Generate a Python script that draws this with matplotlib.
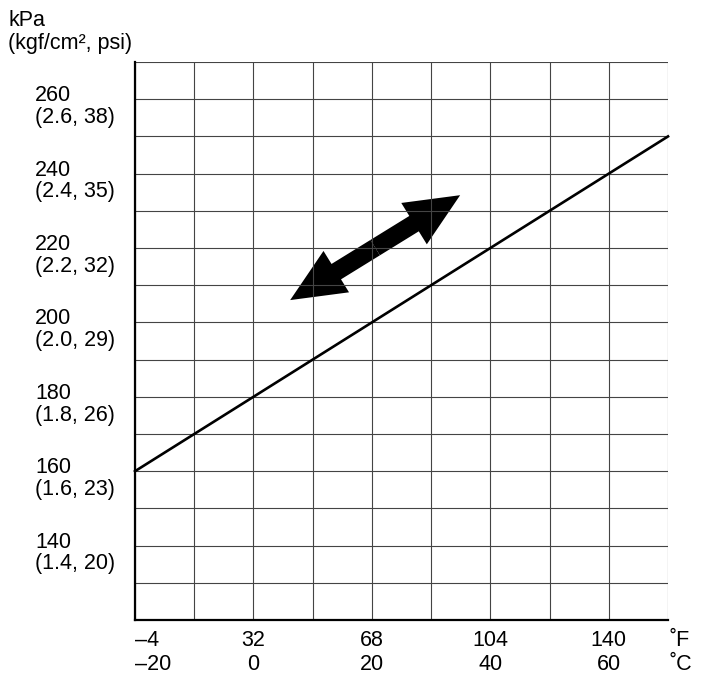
import matplotlib
matplotlib.use("Agg")
import matplotlib.pyplot as plt
from matplotlib.transforms import blended_transform_factory
from matplotlib.patches import FancyArrowPatch

plt.rcParams['font.family'] = ['Liberation Sans', 'DejaVu Sans']

# temperature axis (deg C) and matching deg F labels
temp_c = [-20, 0, 20, 40, 60]
temp_f = ['\u20134', '32', '68', '104', '140']
temp_c_labels = ['\u201320', '0', '20', '40', '60']

# pressure axis labels
press_kpa = [140, 160, 180, 200, 220, 240, 260]
press_alt = ['(1.4, 20)', '(1.6, 23)', '(1.8, 26)', '(2.0, 29)',
             '(2.2, 32)', '(2.4, 35)', '(2.6, 38)']

# specification line
line_c = [-20, 70]
line_kpa = [160, 250]

# double arrow endpoints (deg C, kPa)
arrow_start = (6.2, 206)
arrow_end = (34.9, 234.2)

fig = plt.figure(figsize=(7.02, 6.86), dpi=100)
ax = fig.add_axes([0.1923, 0.0962, 0.7593, 0.8134])

ax.set_xlim(-20, 70)
ax.set_ylim(120, 270)
ax.set_xticks(range(-20, 71, 10))
ax.set_yticks(range(120, 271, 10))
ax.grid(True, color='#444444', linewidth=0.8)
ax.tick_params(length=0, labelbottom=False, labelleft=False)
for side in ['top', 'right']:
    ax.spines[side].set_visible(False)
for side in ['left', 'bottom']:
    ax.spines[side].set_linewidth(1.6)

ax.plot(line_c, line_kpa, color='black', linewidth=1.9, clip_on=False)

# double-headed arrow drawn as two halves from the middle
mid = ((arrow_start[0] + arrow_end[0]) / 2, (arrow_start[1] + arrow_end[1]) / 2)
for tip in [arrow_start, arrow_end]:
    ax.add_patch(FancyArrowPatch(mid, tip, arrowstyle='simple,head_length=3.9,head_width=3.5,tail_width=1.3',
                                 mutation_scale=10, color='black', shrinkA=0, shrinkB=0,
                                 linewidth=0))

fs = 15.5
# y labels
ytr = blended_transform_factory(fig.transFigure, ax.transData)
for v, alt in zip(press_kpa, press_alt):
    ax.text(35 / 702, v - 2, f'{v}\n{alt}', transform=ytr, ha='left', va='center',
            fontsize=fs, linespacing=1.05)

fig.text(8 / 702, 1 - 21 / 686, 'kPa', ha='left', va='center', fontsize=fs)
fig.text(8 / 702, 1 - 44 / 686, '(kgf/cm\u00b2, psi)', ha='left', va='center', fontsize=fs)

# x labels
xtr = blended_transform_factory(ax.transData, fig.transFigure)
for c, f, cl in zip(temp_c, temp_f, temp_c_labels):
    ha = 'left' if c == temp_c[0] else 'center'
    x = c - 0.05 if c == temp_c[0] else c
    ax.text(x, 1 - 640 / 686, f, transform=xtr, ha=ha, va='center', fontsize=fs)
    ax.text(x, 1 - 665 / 686, cl, transform=xtr, ha=ha, va='center', fontsize=fs)
fig.text(669 / 702, 1 - 640 / 686, '\u02daF', ha='left', va='center', fontsize=fs)
fig.text(669 / 702, 1 - 665 / 686, '\u02daC', ha='left', va='center', fontsize=fs)

fig.savefig('out.png', dpi=100)
